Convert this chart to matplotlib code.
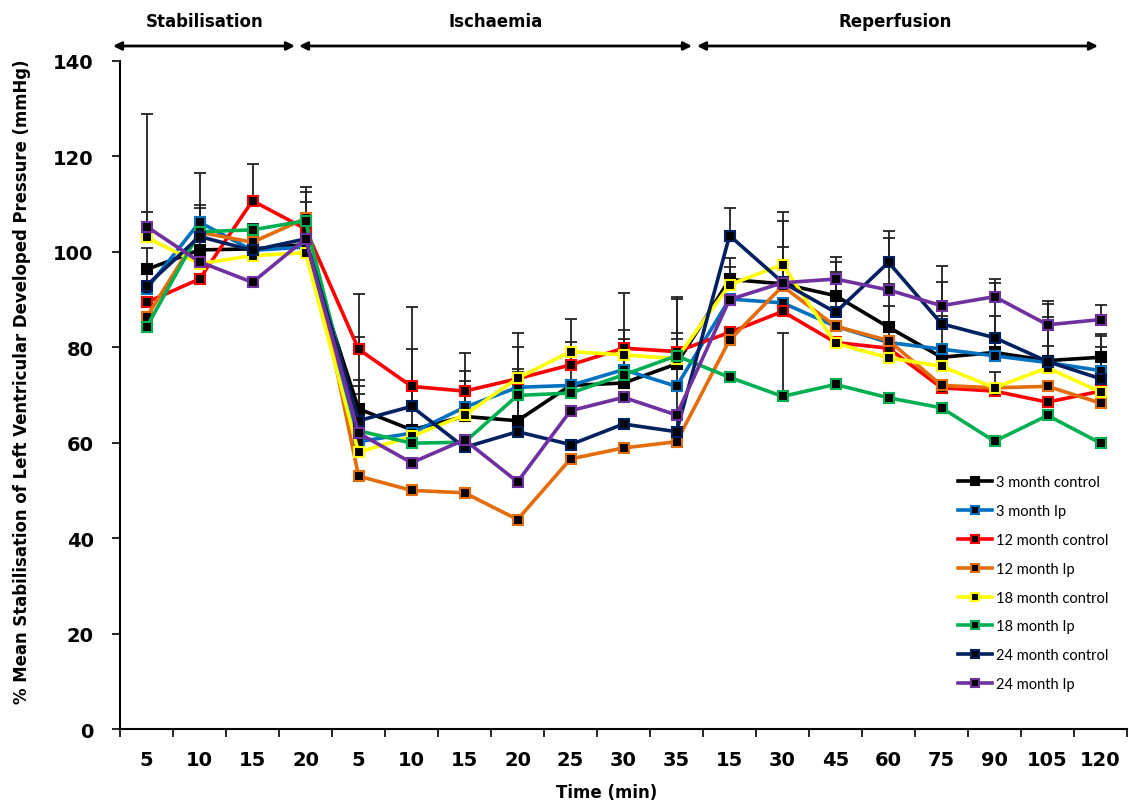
import matplotlib.pyplot as plt
import numpy as np

# x categories (stabilisation, ischaemia, reperfusion)
time_labels = ['5', '10', '15', '20', '5', '10', '15', '20', '25', '30', '35',
               '15', '30', '45', '60', '75', '90', '105', '120']

names = ['3 month control', '3 month Ip', '12 month control', '12 month Ip',
         '18 month control', '18 month Ip', '24 month control', '24 month Ip']
colors = ['#000000', '#0070C0', '#FF0000', '#E46C0A', '#FFFF00', '#00B050', '#002060', '#7030A0']

ctrl3 = [96.3, 100.4, 100.6, 101.5, 67.1, 62.7, 65.5, 64.6, 72.0, 72.5, 76.5,
         94.2, 93.3, 90.8, 84.2, 77.9, 78.9, 77.2, 77.9]
ip3 = [92.2, 106.2, 100.3, 101.0, 60.2, 62.0, 67.4, 71.6, 72.0, 75.3, 71.8,
       90.1, 89.3, 84.4, 81.0, 79.6, 78.2, 76.8, 75.1]
ctrl12 = [89.4, 94.3, 110.7, 104.8, 79.6, 71.8, 70.8, 73.4, 76.3, 79.8, 79.1,
          83.1, 87.5, 81.0, 79.8, 71.5, 70.8, 68.5, 70.8]
ip12 = [86.3, 104.1, 102.0, 107.0, 53.0, 50.0, 49.5, 43.9, 56.6, 58.9, 60.2,
        81.5, 92.8, 84.4, 81.4, 72.0, 71.5, 71.8, 68.3]
ctrl18 = [103.0, 97.5, 99.2, 99.8, 58.0, 61.3, 65.8, 73.5, 79.1, 78.4, 77.6,
          93.1, 97.3, 80.8, 77.8, 76.0, 71.5, 75.7, 70.6]
ip18 = [84.2, 104.2, 104.6, 106.5, 62.5, 59.9, 60.1, 69.9, 70.4, 74.2, 78.2,
        73.7, 69.7, 72.2, 69.4, 67.3, 60.3, 65.7, 59.9]
ctrl24 = [92.9, 103.2, 100.3, 102.7, 64.6, 67.6, 59.0, 62.3, 59.6, 63.9, 62.3,
          103.4, 93.6, 87.3, 97.8, 84.9, 82.0, 77.0, 73.4]
ip24 = [105.3, 97.9, 93.6, 102.7, 62.0, 55.8, 60.6, 51.8, 66.7, 69.5, 65.8,
        90.0, 93.5, 94.3, 92.0, 88.7, 90.6, 84.7, 85.8]

# upper error bars (0 = not visible)
err_ctrl3 = [4.5, 8.8, 5.2, 0, 24.1, 16.9, 13.2, 18.4, 9.0, 18.8, 14.0, 4.5, 7.7, 7.1, 9.1, 8.7, 7.7, 9.1, 4.9]
err_ip3 = [0, 10.3, 0, 0, 10.0, 0, 7.7, 3.3, 0, 6.4, 0, 0, 0, 0, 7.7, 0, 3.5, 3.5, 4.9]
err_ctrl12 = [0, 0, 7.6, 0, 2.5, 0, 0, 0, 0, 0, 0, 0, 0, 0, 0, 0, 0, 0, 0]
err_ip12 = [0, 0, 0, 6.5, 0, 0, 0, 0, 0, 0, 0, 0, 0, 0, 0, 0, 0, 0, 0]
err_ctrl18 = [5.3, 0, 0, 0, 0, 0, 7.2, 0, 6.8, 0, 4.1, 3.7, 9.2, 0, 0, 0, 3.4, 0, 0]
err_ip18 = [0, 0, 0, 6.0, 0, 0, 0, 5.6, 0, 9.4, 4.8, 0, 13.2, 0, 0, 0, 0, 0, 0]
err_ctrl24 = [4.6, 6.7, 5.5, 7.7, 8.6, 20.8, 0, 17.7, 0, 0, 27.8, 5.7, 14.7, 8.5, 6.5, 8.7, 11.4, 12.1, 9.0]
err_ip24 = [23.6, 0, 0, 0, 9.8, 0, 0, 0, 0, 0, 0, 0, 0, 4.7, 10.9, 8.4, 3.6, 4.9, 3.1]

values = [ctrl3, ip3, ctrl12, ip12, ctrl18, ip18, ctrl24, ip24]
errors = [err_ctrl3, err_ip3, err_ctrl12, err_ip12, err_ctrl18, err_ip18, err_ctrl24, err_ip24]

plt.rcParams['font.family'] = ['DejaVu Sans']

W, H = 1129, 803
fig = plt.figure(figsize=(W / 100, H / 100), dpi=100)
ax = fig.add_axes([0.1063, 0.0909, 0.892, 0.832])

x = np.arange(len(time_labels))

for vals, errs in zip(values, errors):
    vals = np.array(vals)
    errs = np.array(errs)
    m = errs > 0
    ax.errorbar(x[m], vals[m], yerr=[np.zeros(m.sum()), errs[m]], fmt='none',
                ecolor='#222222', elinewidth=1.3, capsize=4, capthick=1.3, zorder=2)

for name, vals, c in zip(names, values, colors):
    ax.plot(x, vals, color=c, lw=2.6, marker='s', markersize=7.5,
            markerfacecolor='black', markeredgecolor=c, markeredgewidth=1.5,
            label=name, zorder=3)

ax.set_xlim(-0.5, len(time_labels) - 0.5)
ax.set_ylim(0, 140)
ax.set_yticks(np.arange(0, 141, 20))
ax.set_yticklabels([str(v) for v in range(0, 141, 20)], fontsize=14, fontweight='bold')

ax.set_xticks(np.arange(-0.5, len(time_labels), 1))
ax.set_xticklabels([])
ax.set_xticks(x, minor=True)
ax.set_xticklabels(time_labels, minor=True, fontsize=14, fontweight='bold')
ax.tick_params(axis='x', which='minor', length=0, pad=15)
ax.tick_params(axis='x', which='major', length=6, width=1.2, direction='out')
ax.tick_params(axis='y', length=6, width=1.2, direction='out', pad=13)

for s in ['top', 'right']:
    ax.spines[s].set_visible(False)
for s in ['left', 'bottom']:
    ax.spines[s].set_linewidth(1.5)

fig.text(607 / W, 1 - 793 / H, 'Time (min)', ha='center', va='center',
         fontsize=12, fontweight='bold')
fig.text(22 / W, 1 - 382 / H,
         '% Mean Stabilisation of Left Ventricular Developed Pressure (mmHg)',
         rotation=90, ha='center', va='center', fontsize=11.9, fontweight='bold')

# phase arrows and labels along the top
phases = [('Stabilisation', 113, 295, 205), ('Ischaemia', 299, 692, 496),
          ('Reperfusion', 697, 1098, 895)]
for label, x0, x1, xc in phases:
    fig.add_artist(plt.Annotation('', xy=(x1 / W, 1 - 47 / H), xytext=(x0 / W, 1 - 47 / H),
                                  xycoords='figure fraction', textcoords='figure fraction',
                                  arrowprops=dict(arrowstyle='<|-|>', color='black', lw=2,
                                                  mutation_scale=12, shrinkA=0, shrinkB=0)))
    fig.text(xc / W, 1 - 22 / H, label, ha='center', va='center',
             fontsize=12, fontweight='bold')

leg = ax.legend(loc='upper left', bbox_to_anchor=(945 / W, 1 - 463 / H),
                bbox_transform=fig.transFigure, frameon=False,
                prop={'family': ['Lato', 'DejaVu Sans'], 'size': 10.5},
                labelspacing=1.02, handlelength=2.3, handletextpad=0.3,
                markerscale=0.8)

plt.savefig('out.png', dpi=100)
